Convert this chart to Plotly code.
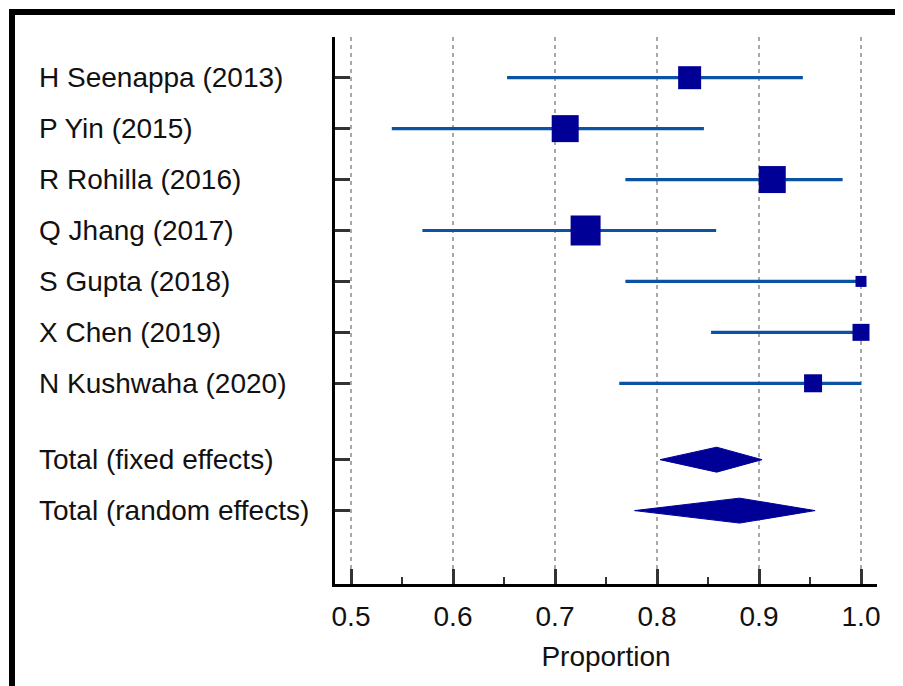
import plotly.graph_objects as go

# ---- data ----
studies = ["H Seenappa (2013)", "P Yin (2015)", "R Rohilla (2016)", "Q Jhang (2017)",
           "S Gupta (2018)", "X Chen (2019)", "N Kushwaha (2020)"]
study_est = [0.832, 0.710, 0.913, 0.730, 1.000, 1.000, 0.953]
study_lo = [0.653, 0.540, 0.769, 0.570, 0.769, 0.853, 0.763]
study_hi = [0.943, 0.846, 0.982, 0.858, 1.000, 1.000, 1.000]
study_size = [23, 27, 27, 30, 11, 17, 18]   # marker size (weight)

totals = ["Total (fixed effects)", "Total (random effects)"]
total_est = [0.8585, 0.881]
total_lo = [0.803, 0.778]
total_hi = [0.903, 0.955]

x_ticks = [0.5, 0.6, 0.7, 0.8, 0.9, 1.0]
x_minor = [0.55, 0.65, 0.75, 0.85, 0.95]
x_title = "Proportion"

# ---- layout helpers ----
OFF = 8                                   # page body margin
W, H = 903 - OFF, 686 - OFF
PL, PR, PT, PB = 335 - OFF, 877 - OFF, 37 - OFF, 584 - OFF   # plot area in figure pixels
study_rows = list(range(len(studies)))
total_rows = [len(studies) + 0.5 + i for i in range(len(totals))]
FONT = "Liberation Sans, Arial, sans-serif"
FS = 28
LINE_C = "#0a52a3"
MARK_C = "#000096"


def px_x(p):
    return (p - OFF - PL) / (PR - PL)


def px_y(p):
    return (PB - (p - OFF)) / (PB - PT)


fig = go.Figure()

# CI lines
cx, cy = [], []
for lo, hi, r in zip(study_lo, study_hi, study_rows):
    cx += [lo, hi, None]
    cy += [r, r, None]
fig.add_trace(go.Scatter(x=cx, y=cy, mode="lines",
                         line=dict(color=LINE_C, width=3.2), hoverinfo="skip"))

# point estimates
fig.add_trace(go.Scatter(x=study_est, y=study_rows, mode="markers",
                         marker=dict(symbol="square", size=study_size, color=MARK_C,
                                     opacity=1, line=dict(width=0))))

# diamonds for totals
half_h = 0.245
for est, lo, hi, r in zip(total_est, total_lo, total_hi, total_rows):
    fig.add_trace(go.Scatter(x=[lo, est, hi, est, lo], y=[r, r - half_h, r, r + half_h, r],
                             mode="lines", fill="toself", fillcolor=MARK_C,
                             line=dict(color=MARK_C, width=1), hoverinfo="skip"))

# row labels (left aligned)
annotations = []
for lab, r in zip(studies + totals, study_rows + total_rows):
    annotations.append(dict(x=px_x(37), xref="paper", y=r, yref="y", text=lab,
                            showarrow=False, xanchor="left", yanchor="middle",
                            font=dict(family=FONT, size=FS, color="#111")))

# figure border (top and left black bars)
shapes = [
    dict(type="rect", xref="paper", yref="paper", x0=px_x(9), x1=px_x(910),
         y0=px_y(9), y1=px_y(15), fillcolor="black", line=dict(width=0), layer="above"),
    dict(type="rect", xref="paper", yref="paper", x0=px_x(9), x1=px_x(15),
         y0=px_y(9), y1=px_y(700), fillcolor="black", line=dict(width=0), layer="above"),
]

fig.update_layout(
    width=W, height=H,
    margin=dict(l=PL, r=W - PR, t=PT, b=H - PB, pad=0),
    paper_bgcolor="white", plot_bgcolor="white",
    showlegend=False,
    annotations=annotations,
    shapes=shapes,
    font=dict(family=FONT, size=FS, color="#111"),
    xaxis=dict(
        range=[0.5 - 16 / 1020, 0.5 + 526 / 1020],
        tickvals=x_ticks, ticktext=[f"{v:.1f}" for v in x_ticks],
        ticks="inside", ticklen=15, tickwidth=3, tickcolor="#333",
        ticklabelstandoff=5,
        showline=True, linewidth=3, linecolor="black",
        showgrid=True, gridcolor="#a8a8a8", gridwidth=1.5, griddash="4px,4px",
        zeroline=False,
        minor=dict(tickvals=x_minor, ticks="inside", ticklen=7, tickwidth=2,
                   tickcolor="#333", showgrid=False),
        tickfont=dict(family=FONT, size=FS, color="#111"),
        title=dict(text=x_title, font=dict(family=FONT, size=FS, color="#111"), standoff=16),
    ),
    yaxis=dict(
        range=[(PB + OFF - 77.7) / 50.93, (PT + OFF - 77.7) / 50.93],
        tickvals=study_rows + total_rows, showticklabels=False,
        ticks="inside", ticklen=15, tickwidth=3, tickcolor="#333",
        showline=True, linewidth=3, linecolor="black",
        showgrid=False, zeroline=False,
    ),
)

fig.write_html("out.html")
